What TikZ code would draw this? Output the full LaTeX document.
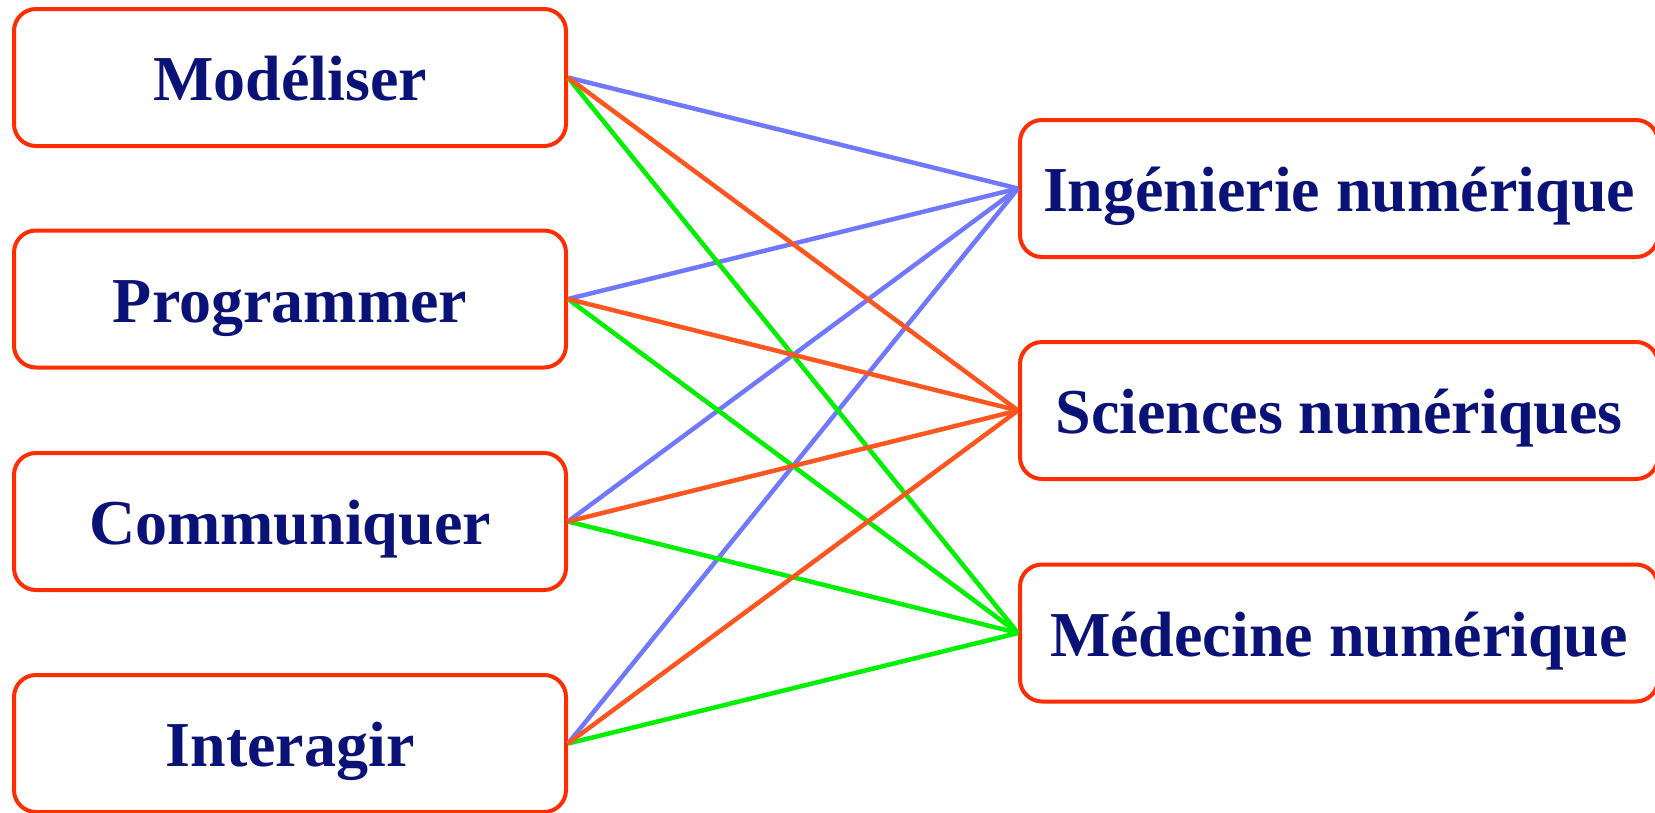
\documentclass[tikz,border=0pt]{standalone}
\usepackage{fontspec}
\setmainfont{Liberation Serif}
\usepackage{tikz}
\usetikzlibrary{arrows}

\definecolor{boxred}{RGB}{255,45,0}
\definecolor{textnavy}{RGB}{10,18,120}
\definecolor{linkblue}{RGB}{112,120,255}
\definecolor{linkorange}{RGB}{255,85,30}
\definecolor{linkgreen}{RGB}{0,240,0}

\begin{document}
\begin{tikzpicture}[x=1pt,y=-1pt,
		skill/.style={draw=boxred, line width=4pt, rounded corners=22pt, fill=white,
			minimum width=552pt, minimum height=137pt, inner sep=0pt,
			text=textnavy, font=\fontsize{64}{64}\selectfont\bfseries,
			text height=46pt, text depth=0pt},
		field/.style={skill, minimum width=638pt},
		link/.style={line width=4.5pt}]
		\useasboundingbox (0,0) rectangle (1655,812);
		\node[skill] (S1) at (290,77.5) {Modéliser};
		\node[skill] (S2) at (290,299) {Programmer};
		\node[skill] (S3) at (290,521.5) {Communiquer};
		\node[skill] (S4) at (290,743.5) {Interagir};
		\node[field] (F1) at (1339,188.5) {Ingénierie numérique};
		\node[field] (F2) at (1339,410.5) {Sciences numériques};
		\node[field] (F3) at (1339,633) {Médecine numérique};
		\foreach \i in {1,...,4} {
			\draw [link, linkblue] (S\i.east) -- (F1.west);
		}
		\foreach \i in {1,...,4} {
			\draw [link, linkgreen] (S\i.east) -- (F3.west);
		}
		\foreach \i in {1,...,4} {
			\draw [link, linkorange] (S\i.east) -- (F2.west);
		}
	\end{tikzpicture}
\end{document}
